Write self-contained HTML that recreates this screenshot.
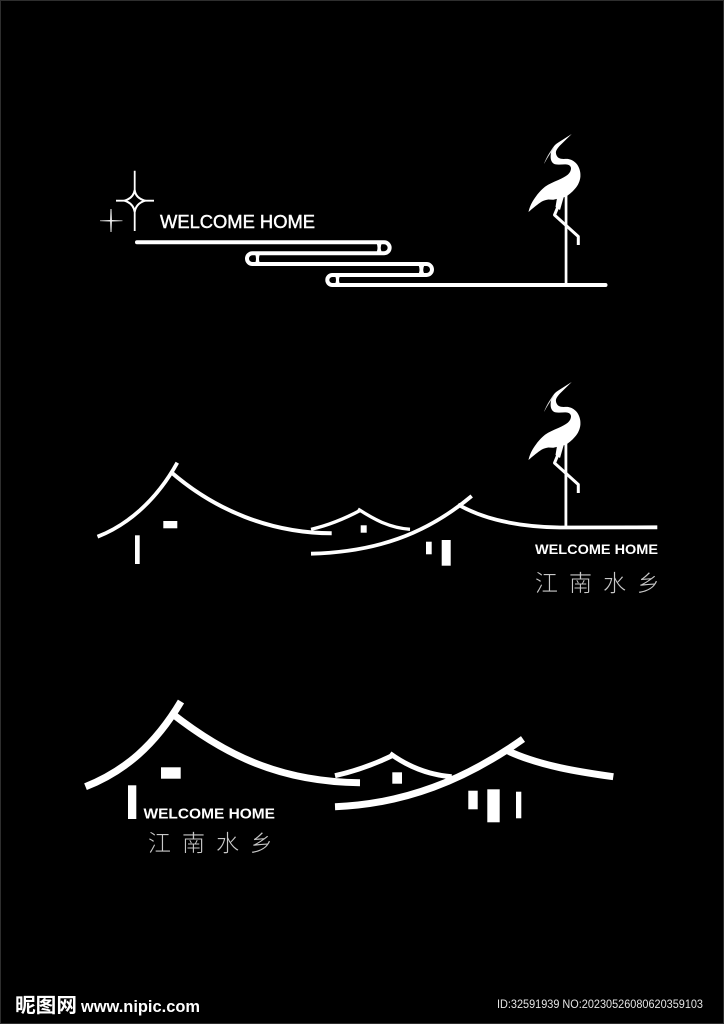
<!DOCTYPE html>
<html><head><meta charset="utf-8"><style>
html,body{margin:0;padding:0;background:#000}
svg{display:block}
.en{font-family:"Liberation Sans",sans-serif;font-weight:bold;fill:#fff}
.cn{font-family:"Noto Sans CJK SC","WenQuanYi Zen Hei",sans-serif;font-weight:200;fill:#c8c8c8}
</style></head><body>
<svg xmlns="http://www.w3.org/2000/svg" width="724" height="1024" viewBox="0 0 724 1024">
<defs>
<g id="crane">
<path fill="#fff" d="M571.7 134 L561 144.500 C557 148.500 555.500 151 556 153.500 C556.500 156.500 558.500 158.300 561 158.800 C564 159.300 566 158.700 568.300 159 C572 159.700 575.500 162 577.500 165 C580 169 580.700 173 580.400 176.700 C580 181 578 185.500 575 188.800 C572 192.300 569 195 565 197 L553.300 199.800 L548.300 199.500 C545 200 542.500 201 540 202.700 C536 205.500 533 208 528.500 212 C529.500 207 532 202 535 197.800 C538 193.300 541 190 545 186.700 C549 184 553.500 182 558.300 180 C562 178.300 565.500 176.500 568 174.500 C570 172.700 571 170.500 571 168.300 C570.800 165.800 569 164.800 566.700 164.500 C563 164.200 559 165 555 164.300 C552.500 163.500 551 161 550.700 158.300 C550.500 154.500 551 151 552.800 148 C554 145.800 556 143.800 558.300 142.500 Z"/>
<path fill="#ddd" d="M544 164 C546 158 549.500 152.500 553 147.500 L553.800 148.500 C550 153.500 547 158.500 544 164 Z"/>
<path fill="none" stroke="#fff" stroke-width="3" stroke-linejoin="round" d="M562 197 L554.500 215 L578.300 236.500 L578.300 245"/>
<path fill="#fff" d="M557 198 L564 196 L560 210 L555.500 207 Z"/>
</g>
</defs>
<rect width="724" height="1024" fill="#000"/>
<rect x="0.500" y="0.500" width="723" height="1023" fill="none" stroke="#2e2e2e"/>

<!-- top group -->
<path fill="none" stroke="#fff" stroke-width="1.800" d="M134.700 170.700 V190 M134.700 212 V231 M116 200.700 H124.500 M145 200.700 H154"/>
<path fill="none" stroke="#fff" stroke-width="2" d="M134.700 190 Q135.500 198 145 200.700 Q136 203.500 134.700 212 Q133.500 203.500 124.500 200.700 Q133.500 198 134.700 190 Z"/>
<path fill="#eee" d="M110.500 209 L111.500 209 L111.900 220 L122.500 220.500 L122.500 221.100 L111.900 221.500 L111.500 232 L110.500 232 L110.100 221.500 L100 221.100 L100 220.500 L110.100 220 Z"/>
<text class="en" style="font-weight:normal;stroke:#fff;stroke-width:.45" x="160" y="228" font-size="18.500" textLength="155" lengthAdjust="spacingAndGlyphs">WELCOME HOME</text>
<path fill="none" stroke="#fff" stroke-width="4" stroke-linecap="round" d="M137 242.300 H384.200 A5.450 5.450 0 0 1 384.200 253.200 H252.400 A5.400 5.400 0 0 0 252.400 264 H426.500 A5.500 5.500 0 0 1 426.500 275 H332.300 A5 5 0 0 0 332.300 285 H605.500"/>
<path fill="#fff" d="M376.500 243 H382 Q379.500 248 382 252.500 H376.500 Q378.500 248 376.500 243 Z"/>
<path fill="#fff" d="M418.500 265 H424.500 Q422 270 424.500 274 H418.500 Q420.500 270 418.500 265 Z"/>
<path fill="#fff" d="M255 254 H260 Q258 259 260 263.500 H255 Q257 259 255 254 Z"/>
<path fill="#fff" d="M335 276 H340 Q338 280 340 284 H335 Q337 280 335 276 Z"/>
<use href="#crane"/>
<rect x="564.700" y="190" width="2.700" height="94" fill="#fff"/>

<!-- middle group -->
<path fill="none" stroke="#fff" stroke-width="3.800" d="M97.500 536.700 C125 526 155 503 177.300 462.700"/>
<path fill="none" stroke="#fff" stroke-width="4" d="M171.500 472.500 C215 510 270 533 331.700 533.300"/>
<rect x="163.300" y="521" width="14" height="7.300" fill="#fff"/>
<rect x="135" y="535.300" width="4.700" height="28.700" fill="#fff"/>
<path fill="none" stroke="#fff" stroke-width="3.300" d="M311 529.300 C330 525 346 518 361 510"/>
<path fill="none" stroke="#fff" stroke-width="3.300" d="M358 509 C375 520 390 528 410 529.300"/>
<rect x="360.700" y="525.300" width="6" height="7.400" fill="#fff"/>
<path fill="none" stroke="#fff" stroke-width="3.800" d="M311 553.700 C375 552 425 535 471.700 496"/>
<path fill="none" stroke="#fff" stroke-width="3.800" d="M458 504.500 C490 523 530 527 560 527.500 C600 527.500 630 527.300 657.300 527.300"/>
<rect x="426" y="541.700" width="5.700" height="12.600" fill="#fff"/>
<rect x="441.700" y="540" width="9" height="25.700" fill="#fff"/>
<use href="#crane" transform="translate(0 248)"/>
<rect x="564.500" y="438" width="2.800" height="90" fill="#fff"/>
<text class="en" x="535" y="554" font-size="14" textLength="123" lengthAdjust="spacingAndGlyphs">WELCOME HOME</text>
<text class="cn" font-size="23" y="591"><tspan x="535">江</tspan><tspan x="569">南</tspan><tspan x="603">水</tspan><tspan x="637">乡</tspan></text>

<!-- bottom group -->
<path fill="none" stroke="#fff" stroke-width="7.200" d="M85.500 786.700 C125 771 155 745 181 701.500"/>
<path fill="none" stroke="#fff" stroke-width="7" d="M172 713.500 C225 755 280 782 360 782.700"/>
<rect x="161" y="767.300" width="19.700" height="11.400" fill="#fff"/>
<rect x="128" y="785.300" width="8.300" height="33.700" fill="#fff"/>
<text class="en" x="143.500" y="818.300" font-size="15" textLength="131.500" lengthAdjust="spacingAndGlyphs">WELCOME HOME</text>
<text class="cn" font-size="23" y="851"><tspan x="148">江</tspan><tspan x="182">南</tspan><tspan x="216">水</tspan><tspan x="250">乡</tspan></text>
<path fill="none" stroke="#fff" stroke-width="5" d="M335 775.700 C356 771 375 764 393.500 755"/>
<path fill="none" stroke="#fff" stroke-width="5" d="M390 753.500 C410 768 430 775 451.700 776.700"/>
<rect x="392.300" y="772.300" width="9.700" height="11.400" fill="#fff"/>
<path fill="none" stroke="#fff" stroke-width="7" d="M335 806.700 C405 804 465 780 523 739"/>
<path fill="none" stroke="#fff" stroke-width="7" d="M507 750.500 C540 766 580 772 613.300 776.700"/>
<rect x="468.300" y="790.700" width="9.400" height="18.600" fill="#fff"/>
<rect x="487.300" y="789.300" width="12.400" height="33" fill="#fff"/>
<rect x="516" y="791.700" width="5.300" height="26.600" fill="#fff"/>

<!-- watermark -->
<text class="en" style="font-family:'Noto Sans CJK SC','WenQuanYi Zen Hei',sans-serif" x="15" y="1012" font-size="20" textLength="62" lengthAdjust="spacingAndGlyphs">昵图网</text>
<text class="en" x="81" y="1012" font-size="16.500" textLength="119" lengthAdjust="spacingAndGlyphs">www.nipic.com</text>
<text x="497" y="1008" font-family="Liberation Sans, sans-serif" font-size="11.500" fill="#e4e4e4" textLength="206" lengthAdjust="spacingAndGlyphs">ID:32591939 NO:20230526080620359103</text>
</svg>
</body></html>
